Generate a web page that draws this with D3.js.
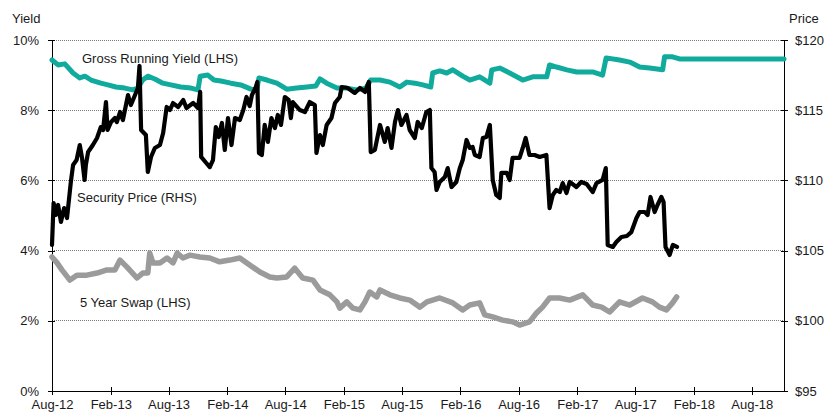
<!DOCTYPE html>
<html>
<head>
<meta charset="utf-8">
<script src="https://cdn.jsdelivr.net/npm/d3@7"></script>
<style>
  html, body { margin: 0; padding: 0; background: #fff; }
  svg { display: block; font-family: "Liberation Sans", Arial, sans-serif; }
</style>
</head>
<body>
<svg id="chart" width="827" height="412"></svg>
<script>
// Axis tick labels
const dateTicks = ["Aug-12","Feb-13","Aug-13","Feb-14","Aug-14","Feb-15","Aug-15",
                   "Feb-16","Aug-16","Feb-17","Aug-17","Feb-18","Aug-18"];
const yieldTicks = [0, 2, 4, 6, 8, 10];
const priceTicks = [95, 100, 105, 110, 115, 120];

// Gross running yield (%), left axis
const grossYield = [
  ["2012-08-01",9.43],["2012-08-20",9.29],["2012-09-10",9.32],["2012-10-06",9.06],
  ["2012-10-27",8.92],["2012-11-12",8.97],["2012-12-01",8.86],["2013-01-01",8.77],
  ["2013-01-23",8.72],["2013-02-17",8.66],["2013-03-17",8.63],["2013-04-11",8.58],
  ["2013-04-27",8.63],["2013-05-12",8.86],["2013-05-28",8.97],["2013-06-19",8.89],
  ["2013-07-14",8.77],["2013-08-08",8.72],["2013-09-08",8.66],["2013-10-10",8.63],
  ["2013-11-01",8.58],["2013-11-08",8.97],["2013-12-02",9.00],["2013-12-21",8.86],
  ["2014-01-12",8.83],["2014-02-12",8.77],["2014-03-15",8.72],["2014-04-16",8.60],
  ["2014-05-04",8.58],["2014-05-11",8.92],["2014-06-05",8.86],["2014-07-06",8.77],
  ["2014-08-06",8.60],["2014-09-06",8.63],["2014-10-08",8.66],["2014-11-05",8.69],
  ["2014-11-18",8.89],["2014-12-09",8.77],["2015-01-10",8.63],["2015-02-10",8.63],
  ["2015-03-13",8.58],["2015-04-11",8.63],["2015-04-26",8.86],["2015-05-25",8.86],
  ["2015-06-25",8.80],["2015-07-26",8.66],["2015-08-17",8.80],["2015-09-11",8.77],
  ["2015-10-06",8.72],["2015-10-31",8.66],["2015-11-06",9.06],["2015-11-28",9.12],
  ["2015-12-20",9.06],["2016-01-08",9.15],["2016-02-08",8.97],["2016-03-01",8.86],
  ["2016-04-01",8.95],["2016-05-03",8.77],["2016-05-09",9.15],["2016-06-03",9.20],
  ["2016-07-04",9.06],["2016-08-14",8.86],["2016-09-14",8.95],["2016-10-28",8.95],
  ["2016-11-06",9.29],["2016-11-28",9.23],["2016-12-30",9.15],["2017-01-30",9.09],
  ["2017-03-21",9.09],["2017-04-21",9.00],["2017-05-02",9.49],["2017-06-13",9.43],
  ["2017-07-15",9.37],["2017-08-15",9.23],["2017-09-15",9.20],["2017-10-26",9.15],
  ["2017-11-01",9.52],["2017-11-26",9.52],["2017-12-18",9.46],["2018-11-10",9.46]
];

// Security price ($), right axis
const securityPrice = [
  ["2012-08-01",105.40],["2012-08-06",108.39],["2012-08-13",107.54],["2012-08-20",108.25],
  ["2012-08-29",107.04],["2012-09-08",108.03],["2012-09-17",107.32],["2012-09-23",108.60],
  ["2012-09-29",109.89],["2012-10-06",111.10],["2012-10-17",111.45],["2012-10-27",112.52],
  ["2012-11-03",111.60],["2012-11-11",110.03],["2012-11-15",111.10],["2012-11-22",112.02],
  ["2012-12-07",112.52],["2012-12-20",113.02],["2013-01-01",113.80],["2013-01-08",113.59],
  ["2013-01-17",115.58],["2013-01-22",113.59],["2013-02-02",114.16],["2013-02-14",114.44],
  ["2013-02-20",114.16],["2013-03-02",114.87],["2013-03-11",114.30],["2013-03-27",116.08],
  ["2013-04-05",115.37],["2013-04-18",116.08],["2013-04-27",116.58],["2013-05-02",118.15],
  ["2013-05-07",113.59],["2013-05-22",113.23],["2013-05-28",110.60],["2013-06-07",111.67],
  ["2013-06-19",112.31],["2013-07-05",112.52],["2013-07-15",113.38],["2013-07-26",115.23],
  ["2013-08-05",115.01],["2013-08-15",115.51],["2013-08-31",115.23],["2013-09-16",115.73],
  ["2013-09-26",115.16],["2013-10-17",115.51],["2013-11-01",115.16],["2013-11-08",116.30],
  ["2013-11-11",111.67],["2013-11-27",111.24],["2013-12-08",110.95],["2013-12-18",111.45],
  ["2013-12-27",113.80],["2014-01-05",113.09],["2014-01-15",114.09],["2014-01-24",112.17],
  ["2014-02-03",114.44],["2014-02-14",112.52],["2014-02-25",114.44],["2014-03-12",114.30],
  ["2014-03-23",115.01],["2014-04-02",115.94],["2014-04-12",115.30],["2014-04-19",116.08],
  ["2014-04-30",116.58],["2014-05-06",117.01],["2014-05-11",111.95],["2014-05-20",111.81],
  ["2014-05-29",113.95],["2014-06-08",112.74],["2014-06-19",114.44],["2014-06-30",113.73],
  ["2014-07-09",114.66],["2014-07-19",113.95],["2014-07-31",115.94],["2014-08-12",115.73],
  ["2014-08-19",114.44],["2014-08-25",115.58],["2014-09-16",115.01],["2014-10-02",114.87],
  ["2014-10-17",115.58],["2014-11-02",115.37],["2014-11-07",111.95],["2014-11-18",113.23],
  ["2014-11-27",112.52],["2014-12-09",113.95],["2014-12-24",114.44],["2015-01-04",115.51],
  ["2015-01-19",115.94],["2015-01-25",116.65],["2015-02-13",116.58],["2015-03-07",116.23],
  ["2015-03-23",116.58],["2015-04-08",116.30],["2015-04-20",117.01],["2015-04-26",112.02],
  ["2015-05-09",112.17],["2015-05-25",113.95],["2015-06-09",112.74],["2015-06-18",113.73],
  ["2015-06-30",112.31],["2015-07-11",114.16],["2015-07-20",115.01],["2015-07-31",113.95],
  ["2015-08-16",114.66],["2015-08-26",113.59],["2015-09-11",113.02],["2015-09-20",114.16],
  ["2015-10-03",113.73],["2015-10-17",114.87],["2015-10-28",115.01],["2015-11-02",110.88],
  ["2015-11-12",110.60],["2015-11-18",109.32],["2015-11-28",109.89],["2015-12-14",110.24],
  ["2015-12-23",110.88],["2016-01-04",109.53],["2016-01-19",109.89],["2016-01-30",110.88],
  ["2016-02-08",111.45],["2016-02-20",112.88],["2016-03-01",112.31],["2016-03-10",112.38],
  ["2016-03-17",111.81],["2016-04-01",111.67],["2016-04-11",113.02],["2016-04-22",113.09],
  ["2016-05-03",113.95],["2016-05-12",110.03],["2016-05-23",108.96],["2016-06-03",108.75],
  ["2016-06-08",110.53],["2016-06-25",110.53],["2016-07-04",110.03],["2016-07-13",111.60],
  ["2016-08-04",111.60],["2016-08-14",112.31],["2016-08-23",113.02],["2016-09-04",111.81],
  ["2016-09-20",111.81],["2016-10-06",111.67],["2016-10-27",111.81],["2016-11-06",108.03],
  ["2016-11-16",108.96],["2016-11-27",109.32],["2016-12-08",109.17],["2016-12-17",109.81],
  ["2016-12-29",109.10],["2017-01-08",109.89],["2017-01-29",109.53],["2017-02-13",109.89],
  ["2017-03-02",109.74],["2017-03-21",109.17],["2017-04-02",109.81],["2017-04-21",110.03],
  ["2017-05-01",110.88],["2017-05-07",105.40],["2017-05-23",105.26],["2017-06-03",105.61],
  ["2017-06-19",105.97],["2017-07-06",106.04],["2017-07-20",106.32],["2017-08-05",107.32],
  ["2017-08-15",107.75],["2017-08-31",107.75],["2017-09-09",107.54],["2017-09-18",108.82],
  ["2017-10-01",107.75],["2017-10-10",108.25],["2017-10-22",108.82],["2017-10-29",108.46],
  ["2017-11-04",105.26],["2017-11-17",104.69],["2017-11-27",105.40],["2017-12-10",105.26]
];

// 5 year swap rate (%), left axis
const swapRate = [
  ["2012-08-01",3.82],["2012-08-17",3.65],["2012-09-01",3.45],["2012-09-26",3.16],
  ["2012-10-18",3.30],["2012-11-18",3.30],["2012-12-20",3.36],["2013-01-20",3.45],
  ["2013-02-14",3.45],["2013-03-02",3.73],["2013-03-24",3.53],["2013-04-24",3.22],
  ["2013-05-12",3.36],["2013-05-28",3.36],["2013-06-03",3.93],["2013-06-13",3.65],
  ["2013-07-05",3.65],["2013-07-27",3.79],["2013-08-15",3.65],["2013-08-28",3.93],
  ["2013-09-15",3.79],["2013-10-07",3.87],["2013-11-07",3.82],["2013-12-08",3.79],
  ["2014-01-08",3.68],["2014-02-09",3.73],["2014-03-12",3.79],["2014-04-12",3.59],
  ["2014-05-14",3.39],["2014-06-14",3.25],["2014-07-06",3.22],["2014-08-06",3.25],
  ["2014-08-31",3.50],["2014-09-25",3.22],["2014-10-27",3.16],["2014-11-18",2.88],
  ["2014-12-19",2.74],["2015-01-10",2.54],["2015-01-19",2.36],["2015-02-10",2.54],
  ["2015-03-01",2.36],["2015-03-23",2.31],["2015-04-08",2.54],["2015-04-23",2.82],
  ["2015-05-15",2.68],["2015-05-25",2.88],["2015-06-25",2.74],["2015-07-26",2.65],
  ["2015-08-26",2.59],["2015-09-27",2.39],["2015-10-19",2.54],["2015-11-28",2.65],
  ["2016-01-08",2.51],["2016-02-08",2.31],["2016-03-01",2.45],["2016-04-01",2.51],
  ["2016-04-17",2.17],["2016-05-12",2.11],["2016-06-12",2.02],["2016-07-13",1.97],
  ["2016-08-04",1.88],["2016-09-04",1.97],["2016-09-26",2.22],["2016-10-15",2.39],
  ["2016-11-06",2.65],["2016-12-07",2.65],["2017-01-08",2.59],["2017-02-18",2.74],
  ["2017-03-21",2.45],["2017-04-18",2.39],["2017-05-13",2.25],["2017-06-13",2.54],
  ["2017-07-15",2.45],["2017-08-24",2.65],["2017-09-24",2.54],["2017-10-16",2.39],
  ["2017-11-07",2.31],["2017-11-26",2.51],["2017-12-09",2.68]
];

const parseDay = d3.timeParse("%Y-%m-%d");
const parseTick = d3.timeParse("%b-%y");

const svg = d3.select("#chart");
const plot = { left: 52, right: 784, top: 40, bottom: 391 };
const textColor = "#1a1a1a";

const x = d3.scaleTime()
  .domain([parseDay("2012-08-01"), parseDay("2018-11-10")])
  .range([plot.left, plot.right]);
const yLeft = d3.scaleLinear().domain([0, 10]).range([plot.bottom, plot.top]);
const yRight = d3.scaleLinear().domain([95, 120]).range([plot.bottom, plot.top]);

// Dotted horizontal gridlines
svg.append("g")
  .selectAll("line")
  .data(yieldTicks.filter(d => d > 0))
  .join("line")
  .attr("x1", plot.left).attr("x2", plot.right)
  .attr("y1", d => yLeft(d)).attr("y2", d => yLeft(d))
  .attr("stroke", "#7a7a7a").attr("stroke-width", 1)
  .attr("stroke-dasharray", "1,1")
  .attr("shape-rendering", "crispEdges");

// Axes
const xAxis = svg.append("g")
  .attr("transform", `translate(0,${plot.bottom})`)
  .call(d3.axisBottom(x)
    .tickValues(dateTicks.map(parseTick))
    .tickFormat(d3.timeFormat("%b-%y"))
    .tickSize(4).tickPadding(5));

const leftAxis = svg.append("g")
  .attr("transform", `translate(${plot.left},0)`)
  .call(d3.axisLeft(yLeft).tickValues(yieldTicks).tickFormat(d => d + "%")
    .tickSize(4).tickPadding(9));

const rightAxis = svg.append("g")
  .attr("transform", `translate(${plot.right},0)`)
  .call(d3.axisRight(yRight).tickValues(priceTicks).tickFormat(d => "$" + d)
    .tickSize(4).tickPadding(7));

[xAxis, leftAxis, rightAxis].forEach(g => {
  g.select(".domain").attr("stroke", "#000").attr("shape-rendering", "crispEdges");
  g.selectAll(".tick line").attr("stroke", "#000").attr("shape-rendering", "crispEdges");
  g.selectAll(".tick text")
    .attr("fill", textColor)
    .style("font-size", "13px")
    .style("font-family", "'Liberation Sans', Arial, sans-serif");
});
// Ticks cross the axis lines
xAxis.selectAll(".tick line").attr("y1", -4).attr("y2", 4);
leftAxis.selectAll(".tick line").attr("x1", 3).attr("x2", -4);
rightAxis.selectAll(".tick line").attr("x1", -3).attr("x2", 4);
// Plain axis lines without end caps
xAxis.select(".domain").attr("d", `M${plot.left},0H${plot.right}`);
leftAxis.select(".domain").attr("d", `M0,${plot.top}V${plot.bottom}`);
rightAxis.select(".domain").attr("d", `M0,${plot.top}V${plot.bottom}`);

// Axis titles
svg.append("text").attr("x", 12).attr("y", 23).text("Yield")
  .attr("fill", textColor).style("font-size", "13px");
svg.append("text").attr("x", 789).attr("y", 23).text("Price")
  .attr("fill", textColor).style("font-size", "13px");

// Series
const lineFor = yScale => d3.line()
  .x(d => x(parseDay(d[0])))
  .y(d => yScale(d[1]));

function drawSeries(data, yScale, color, width) {
  svg.append("path")
    .datum(data)
    .attr("d", lineFor(yScale))
    .attr("fill", "none")
    .attr("stroke", color)
    .attr("stroke-width", width)
    .attr("stroke-linejoin", "round")
    .attr("stroke-linecap", "round");
}

drawSeries(grossYield, yLeft, "#10ab9d", 5);
drawSeries(swapRate, yLeft, "#9b9b9b", 5.5);
drawSeries(securityPrice, yRight, "#000000", 4.2);

// Series labels
const seriesLabels = [
  { text: "Gross Running Yield (LHS)", x: 82, y: 63 },
  { text: "Security Price (RHS)", x: 77, y: 202 },
  { text: "5 Year Swap (LHS)", x: 80, y: 307 }
];
svg.append("g").selectAll("text")
  .data(seriesLabels)
  .join("text")
  .attr("x", d => d.x).attr("y", d => d.y)
  .attr("fill", textColor)
  .style("font-size", "13px")
  .text(d => d.text);
</script>
</body>
</html>
